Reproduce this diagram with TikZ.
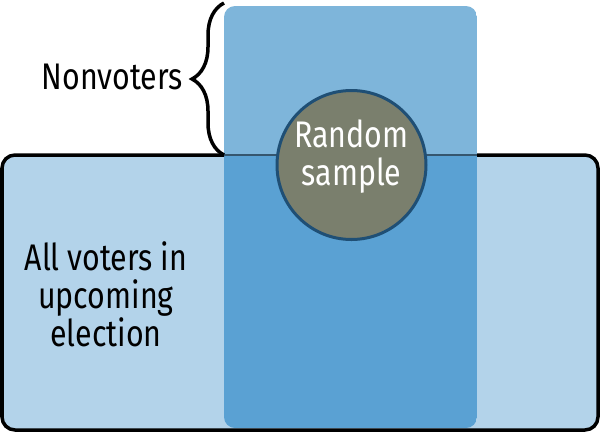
\documentclass[tikz,border=0pt]{standalone}
\usepackage{fontspec}
\setmainfont[FakeStretch=0.82]{Fira Sans}
\usetikzlibrary{decorations.pathreplacing}
\definecolor{lightb}{HTML}{B3D3EA}
\definecolor{topb}{HTML}{7EB5DA}
\definecolor{midb}{HTML}{5AA1D3}
\definecolor{circfill}{HTML}{7A7F6D}
\definecolor{circedge}{HTML}{1F4F75}
\definecolor{crossline}{HTML}{35566E}
\tikzset{
  lbl/.style={font=\fontsize{37}{38}\selectfont, align=center, inner sep=0pt},
}
\begin{document}
\begin{tikzpicture}[x=1pt,y=-1pt]
\useasboundingbox (0,0) rectangle (600,432);
% voters box fill
\fill[lightb, rounded corners=13] (2,155) rectangle (598,430);
% sample strip
\begin{scope}
\clip[rounded corners=11] (224,6) rectangle (477,428);
\fill[topb] (224,6) rectangle (477,155);
\fill[midb] (224,155) rectangle (477,428);
\end{scope}
\coordinate (sl) at (224,155);
\coordinate (sr) at (477,155);
% voters border
\draw[line width=3.5pt, rounded corners=13] (sl) -- (2,155) -- (2,430) -- (598,430) -- (598,155) -- (sr);
\draw[crossline, line width=2pt] (sl) -- (sr);
% brace
\coordinate (bb) at (224,155);
\coordinate (bt) at (224,3);
\draw[line width=3.5pt, decorate, decoration={brace, amplitude=32}] (bb) -- (bt);
% circle
\node[circle, fill=circfill, draw=circedge, line width=3pt, minimum size=149pt, inner sep=0pt] (c) at (351.5,165) {};
\node[lbl, text=white] (rs) at (351.5,157) {Random\\sample};
\node[lbl, anchor=east] (nv) at (183,77) {Nonvoters};
\node[lbl] (av) at (106,294) {All voters in\\upcoming\\election};
\end{tikzpicture}
\end{document}
